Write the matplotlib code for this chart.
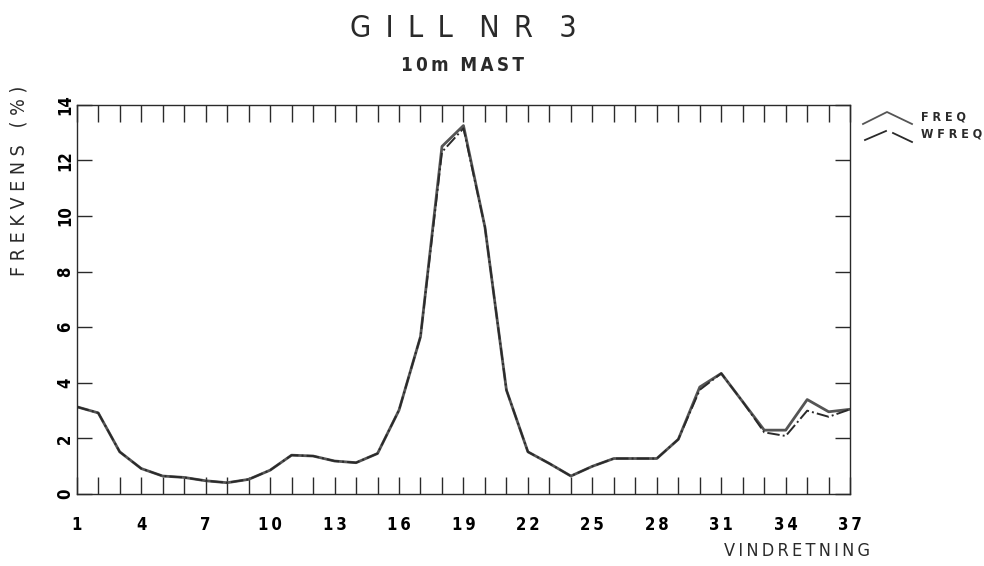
import matplotlib
matplotlib.use("Agg")
import matplotlib.pyplot as plt
from matplotlib.lines import Line2D

directions = list(range(1, 38))
freq = [3.14, 2.92, 1.52, 0.92, 0.65, 0.60, 0.48, 0.41, 0.53, 0.86,
        1.40, 1.37, 1.19, 1.13, 1.46, 3.02, 5.66, 12.50, 13.25, 9.6,
        3.74, 1.52, 1.10, 0.65, 1.00, 1.28, 1.28, 1.28, 1.97, 3.85,
        4.34, 3.32, 2.30, 2.30, 3.40, 2.96, 3.05]
wfreq = [3.14, 2.92, 1.52, 0.92, 0.65, 0.60, 0.48, 0.41, 0.53, 0.86,
         1.40, 1.37, 1.19, 1.13, 1.46, 3.02, 5.66, 12.30, 13.15, 9.6,
         3.74, 1.52, 1.10, 0.65, 1.00, 1.28, 1.28, 1.28, 1.97, 3.75,
         4.34, 3.32, 2.22, 2.09, 3.00, 2.78, 3.05]
xtick_labels = ["1", "4", "7", "10", "13", "16", "19", "22", "25", "28", "31", "34", "37"]
ytick_labels = ["0", "2", "4", "6", "8", "10", "12", "14"]

FONT = dict(family="DejaVu Sans", stretch="condensed")
ink = "#2a2a2a"
TS = "\u2009"  # thin space for letter spacing


def spaced(s, sep=TS):
    return sep.join(s)


fig = plt.figure(figsize=(9.84, 5.66), dpi=100)
ax = fig.add_axes([0.078, 0.127, 0.786, 0.688])

ax.plot(directions, freq, color="#555555", lw=2.0, solid_joinstyle="round")
ax.plot(directions, wfreq, color=ink, lw=1.4, ls="-.")

ax.set_xlim(1, 37)
ax.set_ylim(0, 14)

# bottom ticks at each integer, labelled every third
ax.set_xticks(directions)
ax.set_xticklabels([spaced(xtick_labels[(d - 1) // 3]) if (d - 1) % 3 == 0 else "" for d in directions],
                   fontsize=12, fontweight="bold", **FONT)
ax.set_yticks([int(v) for v in ytick_labels])
ax.set_yticklabels(ytick_labels, rotation=90, va="center", fontsize=12, fontweight="bold", **FONT)
ax.tick_params(axis="x", direction="in", length=12, width=1.0, color=ink, top=True, pad=16)
ax.tick_params(axis="y", direction="in", length=11, width=1.0, color=ink, right=True, pad=2)
for s in ax.spines.values():
    s.set_color(ink)
    s.set_linewidth(1.0)

fig.text(0.4705, 0.95, "G" + TS + " I" + TS + " L" + TS + " L   N" + TS + " R   3", ha="center", va="center",
         fontsize=22, color=ink, **FONT)
fig.text(0.4705, 0.885, spaced("10m") + "  " + spaced("MAST"), ha="center", va="center",
         fontsize=13.5, fontweight="bold", color=ink, **FONT)
fig.text(0.019, 0.68, spaced("FREKVENS", " ") + "   ( % )", rotation=90, ha="center", va="center",
         fontsize=14, color=ink, **FONT)
fig.text(0.884, 0.027, spaced("VINDRETNING"), ha="right", va="center", fontsize=13, color=ink, **FONT)

# legend
W, H = 984.0, 566.0
def fx(p): return p / W
def fy(p): return 1 - p / H
fig.add_artist(Line2D([fx(863), fx(887), fx(912)], [fy(124), fy(112), fy(124)],
                      transform=fig.transFigure, color="#555555", lw=1.3))
fig.add_artist(Line2D([fx(865), fx(886)], [fy(140), fy(131)],
                      transform=fig.transFigure, color=ink, lw=1.3))
fig.add_artist(Line2D([fx(893), fx(912)], [fy(133), fy(142)],
                      transform=fig.transFigure, color=ink, lw=1.3))
fig.text(fx(921), fy(117), spaced("FREQ", " "), ha="left", va="center", fontsize=9, fontweight="bold", color=ink, **FONT)
fig.text(fx(921), fy(134), spaced("WFREQ", " "), ha="left", va="center", fontsize=9, fontweight="bold", color=ink, **FONT)

fig.savefig("out.png", dpi=100)
